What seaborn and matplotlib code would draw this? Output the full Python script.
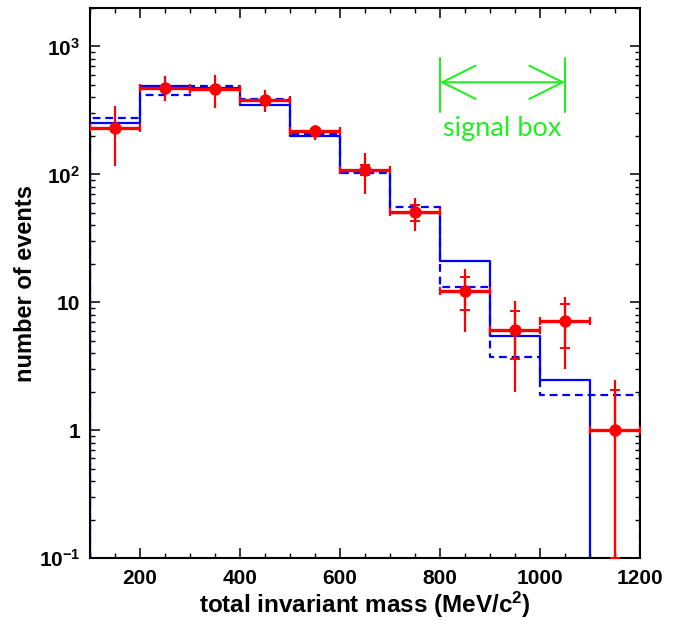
import numpy as np
import pandas as pd
import matplotlib
matplotlib.use("Agg")
import matplotlib.pyplot as plt
import seaborn as sns
from matplotlib.ticker import FixedLocator, MultipleLocator, NullFormatter

# ---------------- data ----------------
bin_edges = [100, 200, 300, 400, 500, 600, 700, 800, 900, 1000, 1100, 1200]
bin_centers = [150, 250, 350, 450, 550, 650, 750, 850, 950, 1050, 1150]
mc_solid = [252, 490, 472, 350, 200, 105.5, 50, 21.2, 5.42, 2.45, 0]
mc_dashed = [274, 420, 490, 388, 208, 102, 55.6, 13.2, 3.74, 1.87, 1.87]
data_y = [230, 476, 468, 379, 217, 109, 50.7, 12.2, 6.08, 7.1, 1.0]
err_outer_lo = [114, 104, 138, 70, 30, 39, 14.7, 6.3, 4.1, 4.07, 0.99]
err_outer_hi = [112, 107, 133, 74, 28, 38, 14.3, 6.1, 4.1, 3.9, 1.45]
err_inner_lo = [10, 15, 15, 12, 8, 11, 7.7, 3.5, 2.5, 2.7, 0.9]
err_inner_hi = [10, 15, 15, 12, 8, 10, 7.3, 3.5, 2.5, 2.6, 1.05]
bin_half_width = [50] * len(bin_centers)
ytick_values = [0.1, 1, 10, 100, 1000]
ytick_labels = [r"$\mathbf{10^{-1}}$", "1", "10", r"$\mathbf{10^{2}}$", r"$\mathbf{10^{3}}$"]
xtick_values = [200, 400, 600, 800, 1000, 1200]
signal_box = [800, 1050]
signal_box_label = "signal box"

# ---------------- style ----------------
sns.set_theme(style="ticks")
plt.rcParams["font.family"] = ["Liberation Sans", "DejaVu Sans"]
plt.rcParams["mathtext.fontset"] = "custom"
plt.rcParams["mathtext.bf"] = "Liberation Sans:bold"
plt.rcParams["mathtext.rm"] = "Liberation Sans"
plt.rcParams["mathtext.it"] = "Liberation Sans:italic"

fig = plt.figure(figsize=(6.78, 6.21), dpi=100)
ax = fig.add_axes([90 / 678, 1 - 558 / 621, 550 / 678, 550 / 621])

TINY = 1e-4


def step_frame(values):
    xs = [bin_edges[0]] + list(bin_edges)
    ys = [TINY] + [v if v > 0 else TINY for v in values] + [values[-1] if values[-1] > 0 else TINY]
    xs = xs + [bin_edges[-1]]
    ys = ys + [TINY]
    return pd.DataFrame({"x": xs, "y": ys, "o": range(len(xs))})


sns.lineplot(data=step_frame(mc_solid), x="x", y="y", sort=False, estimator=None,
             drawstyle="steps-post", color="#0000ff", linewidth=1.6, ax=ax, zorder=2)
sns.lineplot(data=step_frame(mc_dashed), x="x", y="y", sort=False, estimator=None,
             drawstyle="steps-post", color="#0000ff", linewidth=1.6, linestyle=(0, (3.5, 2.2)),
             ax=ax, zorder=2)

red = "#ff0000"
# horizontal bin-width bars with end caps
ax.errorbar(bin_centers, data_y, xerr=bin_half_width, fmt="none", ecolor=red,
            elinewidth=2.4, capsize=3.2, capthick=1.6, zorder=3)
# outer (total) vertical errors
ax.errorbar(bin_centers, data_y, yerr=[err_outer_lo, err_outer_hi], fmt="none",
            ecolor=red, elinewidth=1.6, capsize=0, zorder=3)
# inner (statistical) vertical errors with caps
ax.errorbar(bin_centers, data_y, yerr=[err_inner_lo, err_inner_hi], fmt="none",
            ecolor=red, elinewidth=1.6, capsize=3.6, capthick=1.4, zorder=3)
pts = pd.DataFrame({"x": bin_centers, "y": data_y})
sns.scatterplot(data=pts, x="x", y="y", color=red, s=80, edgecolor=red, linewidth=0,
                ax=ax, zorder=4)

ax.set_yscale("log")
ax.set_xlim(bin_edges[0], bin_edges[-1])
ax.set_ylim(0.1, 2000)

# ticks
ax.xaxis.set_major_locator(FixedLocator(xtick_values))
ax.xaxis.set_minor_locator(MultipleLocator(50))
ax.yaxis.set_major_locator(FixedLocator(ytick_values))
ax.set_yticklabels(ytick_labels)
minor_y = [m * 10.0 ** e for e in range(-1, 4) for m in range(2, 10)]
ax.yaxis.set_minor_locator(FixedLocator(minor_y))
ax.yaxis.set_minor_formatter(NullFormatter())
ax.set_xticklabels([str(v) for v in xtick_values])
ax.tick_params(which="both", direction="in", top=True, right=True, color="black")
ax.tick_params(which="major", length=7, width=1.1, labelsize=15, pad=8)
ax.tick_params(which="minor", length=3.8, width=1.0)
ax.tick_params(axis="y", which="major", pad=7)
for lab in ax.get_xticklabels() + ax.get_yticklabels():
    lab.set_fontweight("bold")
    lab.set_color("black")

for sp in ax.spines.values():
    sp.set_linewidth(1.5)
    sp.set_color("black")

ax.set_xlabel(r"total invariant mass (MeV/c$^{\mathbf{2}}$)", fontsize=17.5,
              fontweight="bold", labelpad=1, color="black")
ax.set_ylabel("number of events", fontsize=17, fontweight="bold", labelpad=1, color="black")

# signal box annotation
green = "#22ee22"
ybar = [305, 806]
for xv in signal_box:
    ax.plot([xv, xv], ybar, color=green, linewidth=1.5, zorder=5)
ax.annotate("", xy=(signal_box[1], 525), xytext=(signal_box[0], 525),
            arrowprops=dict(arrowstyle="<->,head_length=2.0,head_width=1.0",
                            color=green, lw=1.5, shrinkA=0, shrinkB=0),
            zorder=5)
ax.text(np.mean(signal_box), 229, signal_box_label, color=green, fontsize=19.5,
        family=["Lato", "DejaVu Sans"], fontweight="normal", ha="center", va="center")

fig.savefig("out.png", dpi=100)
